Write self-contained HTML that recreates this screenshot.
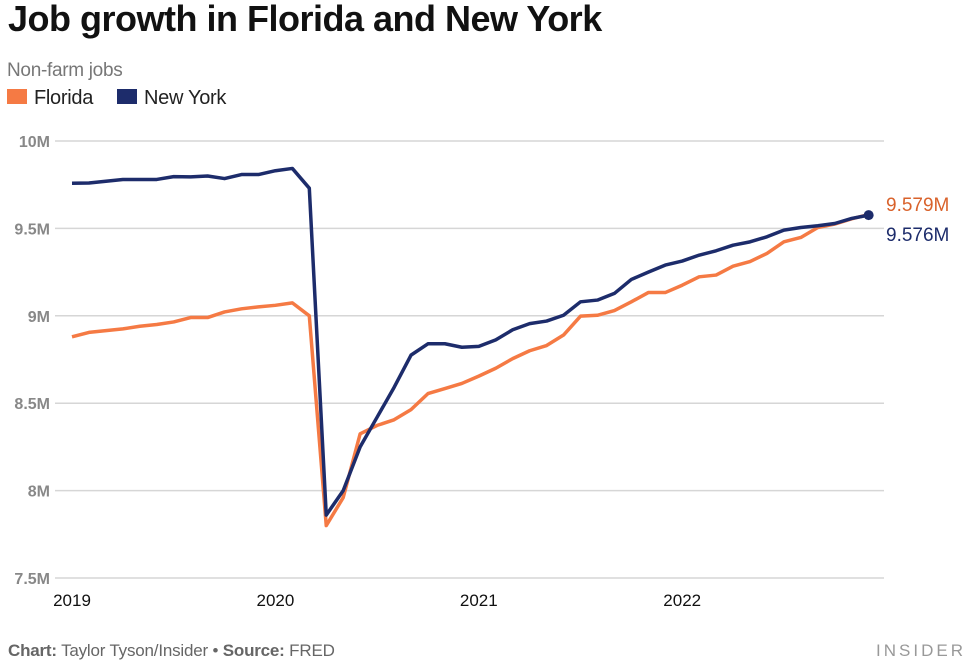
<!DOCTYPE html>
<html><head><meta charset="utf-8"><style>
body{margin:0;background:#fff;font-family:"Liberation Sans",sans-serif;}
svg{display:block}
</style></head><body>
<svg width="972" height="665" viewBox="0 0 972 665">
<text x="8" y="31" font-size="36" font-weight="bold" fill="#111" letter-spacing="-0.5">Job growth in Florida and New York</text>
<text x="7" y="76" font-size="19" fill="#777" letter-spacing="-0.3">Non-farm jobs</text>
<g>
<rect x="7" y="89" width="20" height="15" fill="#f57a44"/>
<text x="34" y="104" font-size="20" fill="#222" letter-spacing="-0.3">Florida</text>
<rect x="117" y="89" width="20" height="15" fill="#1d2c6b"/>
<text x="144" y="104" font-size="20" fill="#222" letter-spacing="-0.3">New York</text>
</g>
<g id="grid"></g>
<g id="xaxis"></g>
<g id="lines"></g>
<text x="8" y="656" font-size="17" fill="#666" letter-spacing="-0.2"><tspan font-weight="bold">Chart:</tspan> Taylor Tyson/Insider • <tspan font-weight="bold">Source:</tspan> FRED</text>
<text x="966" y="656" font-size="17" fill="#999" text-anchor="end" letter-spacing="3">INSIDER</text>
</svg>
<script>
const yTicks=[7.5,8,8.5,9,9.5,10];
const yTickLabels=["7.5M","8M","8.5M","9M","9.5M","10M"];
const xTickIdx=[0,12,24,36];
const xTickLabels=["2019","2020","2021","2022"];
const florida=[8.88,8.905,8.915,8.925,8.94,8.95,8.965,8.99,8.99,9.022,9.04,9.051,
9.06,9.074,9.0,7.80,7.96,8.325,8.373,8.405,8.463,8.555,8.584,8.613,
8.655,8.70,8.755,8.80,8.83,8.89,8.998,9.003,9.03,9.08,9.133,9.133,
9.175,9.223,9.233,9.284,9.31,9.357,9.423,9.448,9.505,9.525,9.555,9.579];
const newYork=[9.758,9.76,9.77,9.78,9.78,9.78,9.796,9.795,9.80,9.785,9.808,9.808,
9.83,9.843,9.73,7.86,8.0,8.25,8.42,8.59,8.775,8.84,8.84,8.82,
8.825,8.862,8.92,8.955,8.97,9.003,9.08,9.09,9.128,9.208,9.25,9.29,
9.313,9.347,9.372,9.404,9.423,9.452,9.49,9.505,9.515,9.528,9.557,9.576];
const NS="http://www.w3.org/2000/svg";
function xS(i){return 72+i*16.95;}
function yS(v){return 141+(10-v)*174.8;}
function mk(tag,attrs,parent){const e=document.createElementNS(NS,tag);for(const k in attrs)e.setAttribute(k,attrs[k]);parent.appendChild(e);return e;}
const grid=document.getElementById('grid');
yTicks.forEach((v,i)=>{
 const l=mk('line',{x1:55,x2:884,y1:yS(v),y2:yS(v),stroke:'#d6d6d6','stroke-width':1.5},grid);
 
 
 const t=mk('text',{x:50,y:yS(v)+6,'text-anchor':'end','font-size':16,fill:'#888','font-weight':'bold'},grid);
 t.textContent=yTickLabels[i];
 
 
});
const xa=document.getElementById('xaxis');
xTickIdx.forEach((idx,i)=>{
 const t=mk('text',{x:xS(idx),y:606,'text-anchor':'middle','font-size':17,fill:'#111'},xa);
 t.textContent=xTickLabels[i];
 
 
});
const lg=document.getElementById('lines');
function line(data,color,name){
 const p=mk('polyline',{points:data.map((v,i)=>xS(i)+','+yS(v)).join(' '),fill:'none',stroke:color,'stroke-width':3.5,'stroke-linejoin':'round'},lg);
 
 
}
line(florida,'#f57a44','florida-line');
line(newYork,'#1d2c6b','new-york-line');
const n=newYork.length-1;
const dot=mk('circle',{cx:xS(n),cy:yS(newYork[n]),r:5,fill:'#1d2c6b'},lg);


const lf=mk('text',{x:886,y:211,'font-size':19,fill:'#d9622b'},lg);
lf.textContent=(florida[n]).toFixed(3)+'M';


const ln=mk('text',{x:886,y:241,'font-size':19,fill:'#1d2c6b'},lg);
ln.textContent=(newYork[n]).toFixed(3)+'M';


</script>
</body></html>
